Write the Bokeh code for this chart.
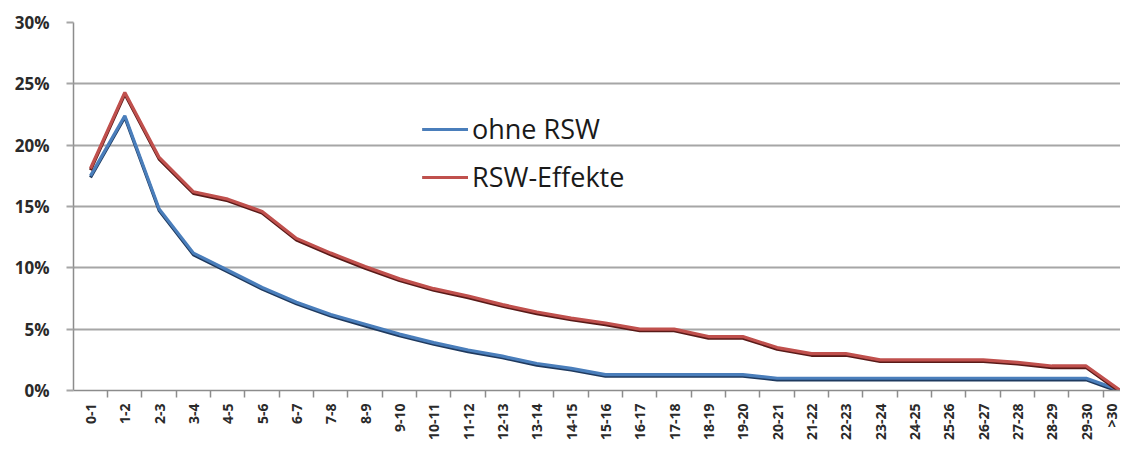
from bokeh.plotting import figure
from bokeh.models import Range1d, FixedTicker, PrintfTickFormatter, Legend, LegendItem
from bokeh.embed import file_html
from bokeh.resources import INLINE
import math

categories = ["0-1", "1-2", "2-3", "3-4", "4-5", "5-6", "6-7", "7-8", "8-9", "9-10",
              "10-11", "11-12", "12-13", "13-14", "14-15", "15-16", "16-17", "17-18",
              "18-19", "19-20", "20-21", "21-22", "22-23", "23-24", "24-25", "25-26",
              "26-27", "27-28", "28-29", "29-30", ">30"]

ohne_rsw = [17.5, 22.4, 14.8, 11.2, 9.8, 8.4, 7.2, 6.2, 5.4, 4.6,
            3.9, 3.3, 2.8, 2.2, 1.8, 1.3, 1.3, 1.3, 1.3, 1.3,
            1.0, 1.0, 1.0, 1.0, 1.0, 1.0, 1.0, 1.0, 1.0, 1.0, 0.0]

rsw_effekte = [18.1, 24.3, 19.0, 16.2, 15.6, 14.6, 12.4, 11.2, 10.1, 9.1,
               8.3, 7.7, 7.0, 6.4, 5.9, 5.5, 5.0, 5.0, 4.4, 4.4,
               3.5, 3.0, 3.0, 2.5, 2.5, 2.5, 2.5, 2.3, 2.0, 2.0, 0.0]

y_ticks = [0, 5, 10, 15, 20, 25, 30]

xs = list(range(len(categories)))

p = figure(width=1120, height=443, output_backend="svg", toolbar_location=None,
           x_range=Range1d(-0.495, 30.0), y_range=Range1d(0, 30),
           min_border_left=73, min_border_right=0, min_border_top=22, min_border_bottom=53)
p.extra_y_ranges = {"shadow": Range1d(0.13, 30.13)}

p.outline_line_color = None
p.background_fill_color = "white"
p.border_fill_color = "white"

# grid
p.xgrid.grid_line_color = None
p.ygrid.grid_line_color = "#a6a6a6"
p.ygrid.grid_line_width = 2
p.ygrid.ticker = FixedTicker(ticks=y_ticks)

# y axis
p.yaxis.ticker = FixedTicker(ticks=y_ticks)
p.yaxis.formatter = PrintfTickFormatter(format="%d%%")
p.yaxis.axis_line_color = "#8c8c8c"
p.yaxis.axis_line_width = 1.5
p.yaxis.major_tick_line_color = "#a6a6a6"
p.yaxis.major_tick_line_width = 2
p.yaxis.major_tick_out = 7
p.yaxis.major_tick_in = 0
p.yaxis.minor_tick_line_color = None
p.yaxis.major_label_standoff = 17
p.yaxis.major_label_text_font = "Open Sans"
p.yaxis.major_label_text_font_style = "bold"
p.yaxis.major_label_text_font_size = "17px"
p.yaxis.major_label_text_color = "#2a2a2a"

# x axis: labels at centers, ticks at category boundaries
p.xaxis.ticker = FixedTicker(ticks=xs, minor_ticks=[i - 0.5 for i in range(len(categories))])
p.xaxis.major_label_overrides = {i: c for i, c in enumerate(categories)}
p.xaxis.major_label_orientation = math.pi / 2
p.xaxis.axis_line_color = "#8c8c8c"
p.xaxis.axis_line_width = 1.5
p.xaxis.major_tick_line_color = None
p.xaxis.major_tick_out = 0
p.xaxis.major_tick_in = 0
p.xaxis.minor_tick_line_color = "#8c8c8c"
p.xaxis.minor_tick_line_width = 1.5
p.xaxis.minor_tick_out = 7
p.xaxis.minor_tick_in = 0
p.xaxis.major_label_standoff = 6
p.xaxis.major_label_text_font = "Open Sans"
p.xaxis.major_label_text_font_style = "bold"
p.xaxis.major_label_text_font_size = "14px"
p.xaxis.major_label_text_color = "#2a2a2a"

# lines with shadow
s1 = p.line(xs, ohne_rsw, line_color="#1f3a5f", line_width=3.2, y_range_name="shadow")
l1 = p.line(xs, ohne_rsw, line_color="#4a7ebb", line_width=3.2)
s2 = p.line(xs, rsw_effekte, line_color="#5a1a18", line_width=3.2, y_range_name="shadow")
l2 = p.line(xs, rsw_effekte, line_color="#c0504d", line_width=3.2)

legend = Legend(items=[LegendItem(label="ohne RSW", renderers=[s1, l1]),
                       LegendItem(label="RSW-Effekte", renderers=[s2, l2])],
                location=(349, 195))
legend.border_line_color = None
legend.background_fill_alpha = 0
legend.padding = 0
legend.margin = 0
legend.spacing = 11
legend.glyph_width = 46
legend.glyph_height = 28
legend.label_height = 28
legend.label_standoff = 4
legend.label_text_font = "Open Sans"
legend.label_text_font_size = "27px"
legend.label_text_color = "#1a1a1a"
p.add_layout(legend, "center")

open("out.html", "w").write(file_html(p, INLINE))
